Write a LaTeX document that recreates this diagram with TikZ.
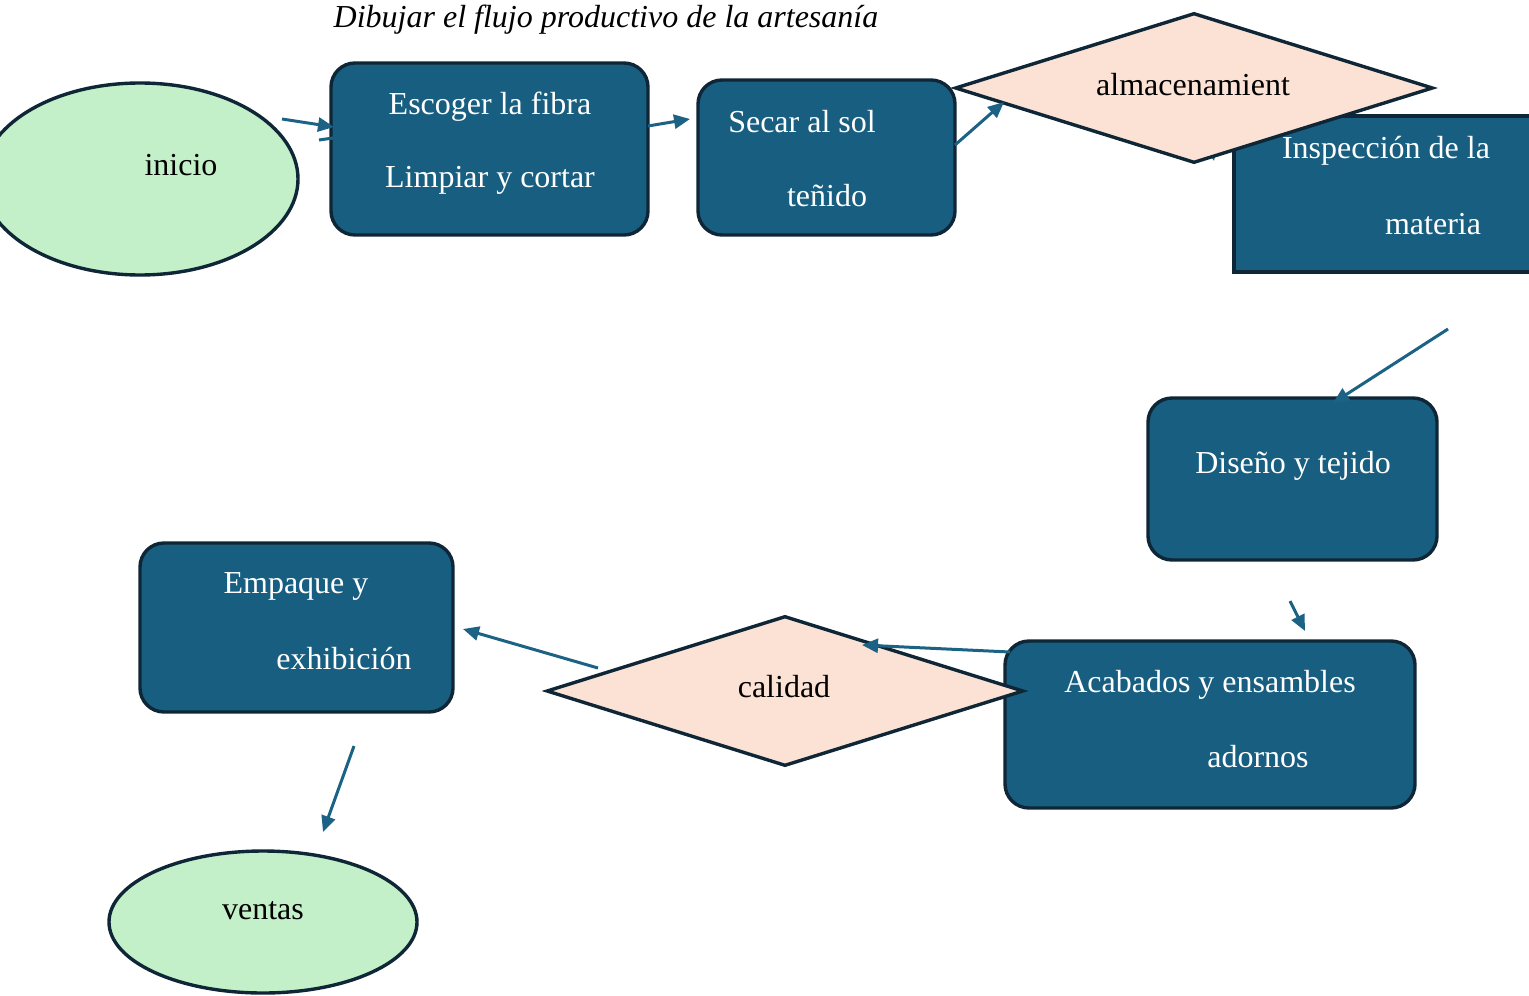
\documentclass[tikz,border=0pt]{standalone}
\usepackage{fontspec}
\setmainfont{Liberation Serif}
\usetikzlibrary{shapes.geometric,arrows.meta}
\definecolor{boxfill}{HTML}{175E80}
\definecolor{edgec}{HTML}{0E2636}
\definecolor{ovalfill}{HTML}{C3F0C8}
\definecolor{diafill}{HTML}{FBE2D5}
\definecolor{arrowc}{HTML}{1B6285}
\tikzset{
  procbox/.style={draw=edgec, fill=boxfill, line width=1.7pt, rounded corners=12pt, inner sep=0pt, rectangle},
  squarebox/.style={draw=edgec, fill=boxfill, line width=1.7pt, inner sep=0pt, rectangle},
  oval/.style={draw=edgec, fill=ovalfill, line width=1.7pt, ellipse, inner sep=0pt},
  decision/.style={draw=edgec, fill=diafill, line width=1.7pt, diamond, inner sep=0pt},
  wtext/.style={text=white, inner sep=0pt, font=\fontsize{16}{19}\selectfont},
  btext/.style={text=black, inner sep=0pt, font=\fontsize{16}{19}\selectfont},
  arr/.style={draw=arrowc, line width=1.5pt, -{Triangle[length=8pt,width=7pt]}},
  plainline/.style={draw=arrowc, line width=1.5pt},
}
\begin{document}
\begin{tikzpicture}[x=0.5pt,y=-0.5pt]
\useasboundingbox (0,0) rectangle (1529,995);
\clip (0,0) rectangle (1529,995);

% hidden arrow below diamond, only its tip shows
\coordinate (h1) at (1206,120);
\coordinate (h2) at (1214,161);
\draw[arr] (h1) -- (h2);

% title
\node[btext, font=\fontsize{16}{19}\selectfont\itshape] (title) at (606,20) {Dibujar el flujo productivo de la artesanía};

% shapes
\node[oval, minimum width=158pt, minimum height=96pt] (inicio) at (140,179) {};
\node[procbox, minimum width=158.5pt, minimum height=86pt] (escoger) at (489.5,149) {};
\node[procbox, minimum width=128.5pt, minimum height=77.5pt] (secar) at (826.5,157.5) {};
\node[squarebox, minimum width=163pt, minimum height=78pt] (inspeccion) at (1397,194) {};
\node[decision, minimum width=239pt, minimum height=75pt] (almac) at (1194,88) {};
\node[procbox, minimum width=144.5pt, minimum height=81pt] (diseno) at (1292.5,479) {};
\node[procbox, minimum width=205pt, minimum height=83.5pt] (acabados) at (1210,724.5) {};
\node[decision, minimum width=238.5pt, minimum height=75pt] (calidad) at (785,691) {};
\node[procbox, minimum width=156.5pt, minimum height=84.5pt] (empaque) at (296.5,627.5) {};
\node[oval, minimum width=154pt, minimum height=71pt] (ventas) at (263,922) {};

% texts
\node[btext] (tinicio) at (181,165) {inicio};
\node[wtext] (tesc1) at (490,107) {Escoger la fibra};
\node[wtext] (tesc2) at (490,180) {Limpiar y cortar};
\node[wtext] (tsec1) at (802,122) {Secar al sol};
\node[wtext] (tsec2) at (827,196) {teñido};
\node[btext] (talm) at (1193,85) {almacenamient};
\node[wtext] (tins1) at (1386,151) {Inspección de la};
\node[wtext] (tins2) at (1433,224) {materia};
\node[wtext] (tdis) at (1293,466) {Diseño y tejido};
\node[wtext] (taca1) at (1210,685) {Acabados y ensambles};
\node[wtext] (taca2) at (1258,757) {adornos};
\node[btext] (tcal) at (784,687) {calidad};
\node[wtext] (temp1) at (296,586) {Empaque y};
\node[wtext] (temp2) at (344,659) {exhibición};
\node[btext] (tven) at (263,911) {ventas};

% connector free ends
\coordinate (a1s) at (282,119);
\coordinate (a1e) at (334,127);
\coordinate (s1s) at (319,140);
\coordinate (s1e) at (333,138);
\coordinate (a2s) at (648,126);
\coordinate (a2e) at (690,119);
\coordinate (a3s) at (955,145);
\coordinate (a3e) at (1004,102);
\coordinate (a5s) at (1448,329);
\coordinate (a5e) at (1333,403);
\coordinate (a6s) at (1290,601);
\coordinate (a6e) at (1305,631);
\coordinate (a7s) at (1010,652);
\coordinate (a7e) at (862,645);
\coordinate (a8s) at (598,668);
\coordinate (a8e) at (463,629);
\coordinate (a9s) at (354,746);
\coordinate (a9e) at (323,832);

\draw[arr] (a1s) -- (a1e);
\draw[plainline] (s1s) -- (s1e);
\draw[arr] (a2s) -- (a2e);
\draw[arr] (a3s) -- (a3e);
\draw[arr] (a5s) -- (a5e);
\draw[arr] (a6s) -- (a6e);
\draw[arr] (a7s) -- (a7e);
\draw[arr] (a8s) -- (a8e);
\draw[arr] (a9s) -- (a9e);
\end{tikzpicture}
\end{document}
